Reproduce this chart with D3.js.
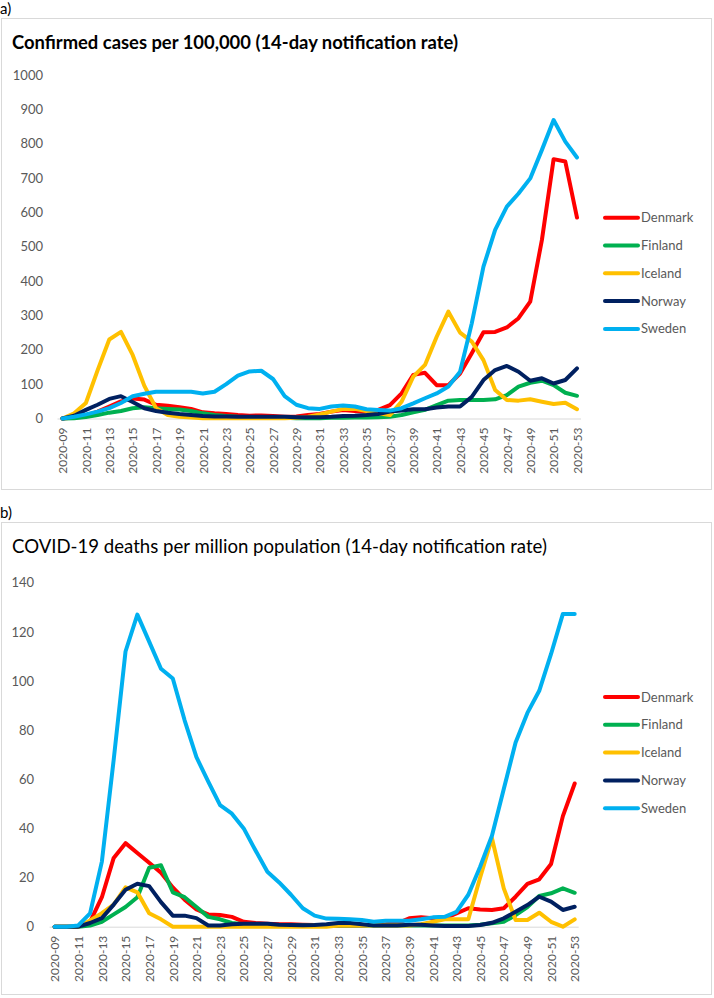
<!DOCTYPE html>
<html><head><meta charset="utf-8">
<script src="https://cdn.jsdelivr.net/npm/d3@7"></script>
<style>
body{margin:0;background:#fff;}
svg{display:block;font-family:Lato,"Noto Sans",sans-serif;}
</style></head>
<body>
<svg id="c" width="714" height="998"></svg>
<script>
const weeks = d3.range(9, 54).map(w => "2020-" + String(w).padStart(2, "0"));
const tickWeeks = weeks.filter((d, i) => i % 2 === 0);
const countries = ["Denmark", "Finland", "Iceland", "Norway", "Sweden"];
const colors = ["#ff0000", "#00b050", "#ffc000", "#002060", "#00b0f0"];

// Panel a: confirmed cases per 100,000
const casesDenmark = [0,3,8,20,35,50,58,55,40,37, 33,28,18,15,13,10,8,9,7,5, 6,10,13,20,25,22,20,25,39,73, 127,133,97,97,131,190,251,252,265,292, 340,520,755,748,585];
const casesFinland = [0,1,4,10,17,22,30,33,30,28, 26,22,15,10,7,5,4,3,2,2, 1,1,1,2,2,3,3,4,5,10, 18,25,39,52,54,54,54,56,68,93, 104,110,97,75,66];
const casesIceland = [0,15,45,140,230,252,185,95,30,10, 5,3,1,1,1,1,1,1,1,1, 2,5,12,20,28,28,22,15,10,49, 122,156,238,311,250,224,170,83,54,52, 56,49,42,46,27];
const casesNorway  = [0,8,25,40,57,65,48,30,22,17, 13,10,7,6,6,5,5,5,5,5, 4,4,4,5,7,8,10,13,20,23, 27,27,32,35,35,63,112,141,153,136, 110,117,102,112,146];
const casesSweden  = [0,5,12,20,30,45,65,72,78,78, 78,78,73,78,100,125,137,139,115,65, 40,30,28,35,38,35,27,25,23,30, 44,59,73,93,136,277,442,549,617,655, 699,782,869,806,760];
const casesTicks = d3.range(0, 1001, 100);

// Panel b: deaths per million
const deathsDenmark = [0,0,0,2,12,28,34,30,26,22, 16,11,7,5,4.8,4,2,1.5,1.2,1, 1,0.8,0.7,0.5,0.5,0.5,0.5,0.8,1,1.4, 3.4,3.8,3.4,3.4,5.4,7.5,7,6.8,7.5,12.2, 17.4,19.3,25.5,45,58.3];
const deathsFinland = [0,0,0,0.5,2,5,8,12,24,25, 14,12,8,4,3,1.5,1,1,0.8,0.6, 0.5,0.5,0.5,0.5,0.5,0.5,0.5,0.5,0.5,0.5, 0.5,0.5,0.5,0.5,0.5,0.5,0.8,1.4,2,4.7, 8,12.5,13.6,15.6,13.8];
const deathsIceland = [0,0,0,2.5,5.5,9,16,14,5.5,3, 0,0,0,0,0,0,0,0,0,0, 0,0,0,0,0.5,0.5,0.5,0.5,0.5,0.5, 0.5,1,2,3,3,3,20,36,15.6,2.7, 2.7,5.7,2,0,3];
const deathsNorway  = [0,0,0,1.5,3.5,9,15,17.5,16.5,10, 4.5,4.5,3.5,0.5,0.5,1,1.2,1.2,1.2,0.8, 0.7,0.6,0.7,1,1.5,1.5,1,0.5,0.5,0.5, 0.8,0.8,0.5,0.3,0.3,0.3,0.7,1.6,3.4,6.1, 8.8,12.2,10.2,6.8,8.1];
const deathsSweden  = [0,0,0.5,5.4,26.5,68,112,127,116,105, 101,84,69,59,49.5,46,40,31,22.4,18, 13,7.5,4.5,3.3,3.2,3,2.7,2,2.4,2.4, 2.4,3,3.8,4,6,13,24.4,37,56,75, 87,96,111,127.3,127.3];
const deathsTicks = d3.range(0, 141, 20);

const panels = [
  {letter: "a)", letterY: 14, frameY: 18.5, frameH: 471,
   title: "Confirmed cases per 100,000 (14-day notification rate)", bold: true, titleY: 49,
   series: [casesDenmark, casesFinland, casesIceland, casesNorway, casesSweden],
   ticks: casesTicks, yMax: 1000, yBottom: 418.5, yTop: 75, xLeft: 62.5, xRight: 577, yLabelX: 43,
   legendY: 217.7},
  {letter: "b)", letterY: 518, frameY: 522.5, frameH: 472,
   title: "COVID-19 deaths per million population (14-day notification rate)", bold: false, titleY: 553,
   series: [deathsDenmark, deathsFinland, deathsIceland, deathsNorway, deathsSweden],
   ticks: deathsTicks, yMax: 140, yBottom: 926.7, yTop: 582.7, xLeft: 54.6, xRight: 574.7, yLabelX: 34,
   legendY: 697}
];

const svg = d3.select("#c");

panels.forEach(p => {
  svg.append("text").attr("x", 0).attr("y", p.letterY).attr("font-size", 15).attr("fill", "#000").text(p.letter);
  svg.append("rect").attr("x", 1.5).attr("y", p.frameY).attr("width", 710).attr("height", p.frameH)
    .attr("fill", "#fff").attr("stroke", "#d9d9d9").attr("stroke-width", 1);
  svg.append("text").attr("x", 12).attr("y", p.titleY).attr("font-size", p.bold ? 18.4 : 18.6)
    .attr("font-weight", p.bold ? "bold" : "normal").attr("fill", "#000").text(p.title);

  const x = d3.scalePoint().domain(weeks).range([p.xLeft, p.xRight]);
  const y = d3.scaleLinear().domain([0, p.yMax]).range([p.yBottom, p.yTop]);

  // baseline
  svg.append("line").attr("x1", p.xLeft - 5).attr("x2", p.xRight + 4)
    .attr("y1", p.yBottom + 0.5).attr("y2", p.yBottom + 0.5).attr("stroke", "#d9d9d9").attr("stroke-width", 1);

  // y axis
  const ya = svg.append("g").attr("transform", `translate(${p.yLabelX},0)`)
    .call(d3.axisLeft(y).tickValues(p.ticks).tickFormat(d3.format("d")).tickSize(0).tickPadding(0));
  ya.select(".domain").remove();
  ya.selectAll("text").attr("font-family", "Lato").attr("font-size", 13).attr("fill", "#595959");

  // x axis
  const xa = svg.append("g").attr("transform", `translate(0,${p.yBottom})`)
    .call(d3.axisBottom(x).tickValues(tickWeeks).tickSize(0).tickPadding(0));
  xa.select(".domain").remove();
  xa.selectAll("text").attr("font-family", "Lato").attr("font-size", 12).attr("fill", "#595959")
    .attr("transform", "rotate(-90)").attr("text-anchor", "end").attr("dy", "0.35em")
    .attr("x", -9).attr("y", 0);

  const line = d3.line().x((d, i) => x(weeks[i])).y(d => y(d));
  p.series.forEach((s, k) => {
    svg.append("path").datum(s).attr("d", line).attr("fill", "none")
      .attr("stroke", colors[k]).attr("stroke-width", 4)
      .attr("stroke-linejoin", "round").attr("stroke-linecap", "round");
  });

  const lg = svg.append("g");
  countries.forEach((c, k) => {
    const ly = p.legendY + k * 27.8;
    lg.append("line").attr("x1", 605).attr("x2", 638).attr("y1", ly).attr("y2", ly)
      .attr("stroke", colors[k]).attr("stroke-width", 4).attr("stroke-linecap", "round");
    lg.append("text").attr("x", 641).attr("y", ly).attr("dy", "0.35em").attr("font-size", 13)
      .attr("fill", "#595959").text(c);
  });
});
</script>
</body></html>
